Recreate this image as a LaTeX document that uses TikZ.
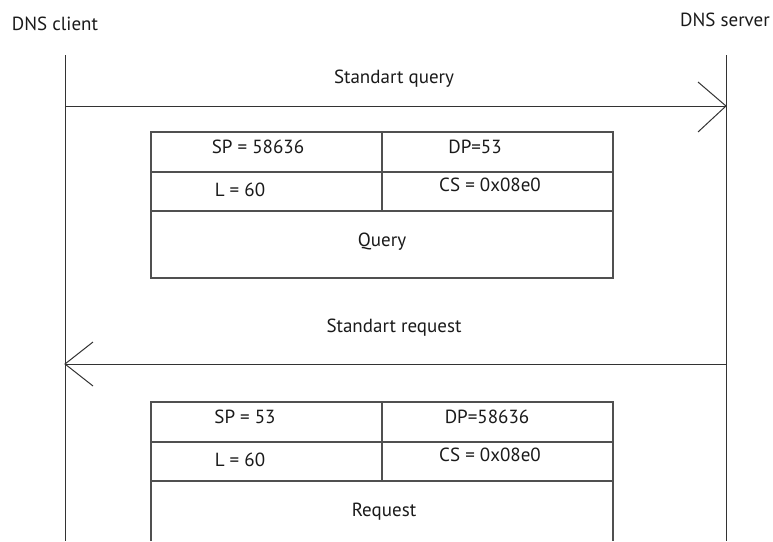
\documentclass[tikz,border=0pt]{standalone}
\usepackage{fontspec}
\setmainfont{PT Sans}
\usetikzlibrary{calc}
\definecolor{linec}{HTML}{333333}
\definecolor{boxc}{HTML}{505050}
\definecolor{txtc}{HTML}{1A1A1A}
\begin{document}
\begin{tikzpicture}[x=1pt,y=-1pt,
  lbl/.style={inner sep=0pt,text=txtc,anchor=base,font=\fontsize{19}{22}\selectfont},
  lifeline/.style={draw=linec,line width=1pt},
  msg/.style={draw=linec,line width=1pt},
  boxline/.style={draw=boxc,line width=1.3pt}]
\useasboundingbox (0,0) rectangle (773,541);
% lifelines
\coordinate (ctop) at (65,55);
\coordinate (cbot) at (65,541);
\coordinate (stop) at (726,55);
\coordinate (sbot) at (726,541);
\draw[lifeline] (ctop) -- (cbot);
\draw[lifeline] (stop) -- (sbot);
\node[lbl] (client) at (55,30) {DNS client};
\node[lbl] (server) at (725,26) {DNS server};
% message 1
\coordinate (m1a) at (65,106);
\coordinate (m1b) at (726,106);
\draw[msg] (m1a) -- (m1b);
\draw[msg] ($(m1b)+(-28,-24)$) -- (m1b) -- ($(m1b)+(-28,26)$);
\node[lbl] (q1) at (394,83) {Standart query};
% message 2
\coordinate (m2a) at (726,364);
\coordinate (m2b) at (65,364);
\draw[msg] (m2a) -- (m2b);
\draw[msg] ($(m2b)+(28,-22)$) -- (m2b) -- ($(m2b)+(28,22)$);
\node[lbl] (q2) at (394,332) {Standart request};
% box 1
\draw[boxline] (151,132) rectangle (613,278);
\draw[boxline] (151,172) -- (613,172);
\draw[boxline] (151,211) -- (613,211);
\draw[boxline] (382,132) -- (382,211);
\node[lbl] (b1sp) at (258,153) {SP = 58636};
\node[lbl] (b1dp) at (475,153) {DP=53};
\node[lbl] (b1l) at (240,196) {L = 60};
\node[lbl] (b1cs) at (490,191) {CS = 0x08e0};
\node[lbl] (b1q) at (382,246) {Query};
% box 2
\draw[boxline] (151,541) -- (151,402) -- (613,402) -- (613,541);
\draw[boxline] (151,442) -- (613,442);
\draw[boxline] (151,481) -- (613,481);
\draw[boxline] (382,402) -- (382,481);
\node[lbl] (b2sp) at (245,423) {SP = 53};
\node[lbl] (b2dp) at (487,423) {DP=58636};
\node[lbl] (b2l) at (240,466) {L = 60};
\node[lbl] (b2cs) at (490,461) {CS = 0x08e0};
\node[lbl] (b2r) at (384,516) {Request};
\end{tikzpicture}
\end{document}
